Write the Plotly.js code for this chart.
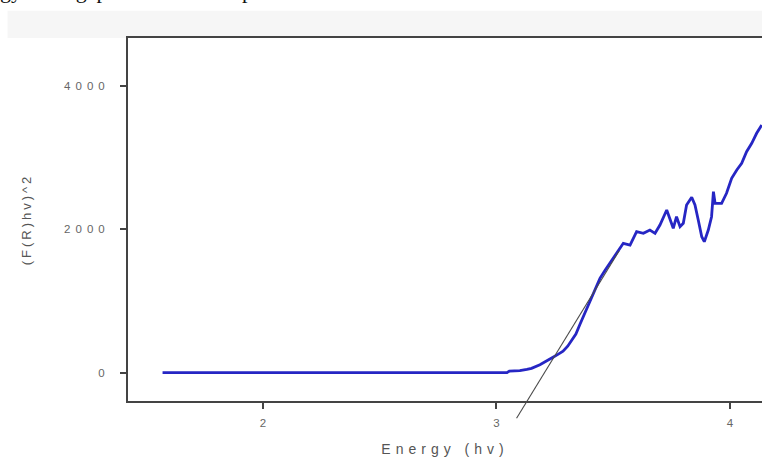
<!DOCTYPE html>
<html>
<head>
<meta charset="utf-8">
<script src="https://cdn.plot.ly/plotly-3.0.1.min.js"></script>
<style>
  html, body { margin: 0; padding: 0; background: #ffffff; }
  #chart { width: 762px; height: 457px; }
  .ytick text { letter-spacing: 5px; }
  .g-xtitle text { letter-spacing: 5px; }
  .g-ytitle text { letter-spacing: 3px; }
</style>
</head>
<body>
<div id="chart"></div>
<script>
// Energy (hv) values
var energy = [1.57, 1.8, 2.0, 2.2, 2.4, 2.6, 2.8, 3.0, 3.045, 3.055, 3.10, 3.13, 3.15, 3.186, 3.215, 3.242, 3.265, 3.285, 3.305, 3.323, 3.34, 3.358, 3.38, 3.40, 3.42, 3.443, 3.465, 3.486, 3.515, 3.543, 3.572, 3.600, 3.629, 3.657, 3.679, 3.700, 3.729, 3.743, 3.757, 3.771, 3.786, 3.800, 3.814, 3.836, 3.850, 3.864, 3.879, 3.890, 3.907, 3.921, 3.929, 3.936, 3.964, 3.985, 4.007, 4.029, 4.050, 4.071, 4.093, 4.114, 4.136];
// (F(R)hv)^2 values
var fr2 = [0, 0, 0, 0, 0, 0, 0, 0, 0, 22, 28, 45, 60, 110, 160, 215, 260, 300, 370, 450, 540, 680, 840, 1010, 1150, 1317, 1430, 1527, 1666, 1806, 1782, 1968, 1945, 1991, 1945, 2061, 2271, 2155, 2015, 2177, 2038, 2085, 2340, 2448, 2340, 2131, 1898, 1828, 1991, 2177, 2526, 2364, 2364, 2504, 2713, 2829, 2922, 3084, 3201, 3341, 3457];
// Tangent (band-gap extrapolation) line end points
var tangentX = [3.086, 3.525];
var tangentY = [-636, 1700];
// Axis ticks
var xTickVals = [2, 3, 4];
var xTickText = ['2', '3', '4'];
var yTickVals = [0, 2000, 4000];
var yTickText = ['0', '2000', '4000'];

var xRange = [1.422, 4.137];
var yRange = [-395, 4671];
var d0 = 0.0902; // bottom of main y domain (paper fraction)
var y2Range = [yRange[0] - (yRange[1] - yRange[0]) * d0 / (1 - d0), yRange[1]];

var traces = [
  {
    x: energy, y: fr2, type: 'scatter', mode: 'lines',
    line: { color: '#2626c4', width: 2.8 },
    xaxis: 'x', yaxis: 'y', hoverinfo: 'skip', showlegend: false
  },
  {
    x: tangentX, y: tangentY, type: 'scatter', mode: 'lines',
    line: { color: '#4a4a4a', width: 1.1 },
    xaxis: 'x2', yaxis: 'y2', hoverinfo: 'skip', showlegend: false
  }
];

var axisFont = { family: 'Liberation Sans, Arial, sans-serif', size: 11.5, color: '#666666' };

var layout = {
  width: 762, height: 457,
  margin: { l: 128, r: 0, t: 38, b: 20 },
  paper_bgcolor: '#ffffff',
  plot_bgcolor: 'rgba(0,0,0,0)',
  showlegend: false,
  xaxis: {
    range: xRange, domain: [0, 1], anchor: 'y',
    tickvals: xTickVals, ticktext: xTickText,
    ticks: 'outside', ticklen: 6, tickwidth: 2, tickcolor: '#444',
    showline: true, linecolor: '#444', linewidth: 2, mirror: true,
    showgrid: false, zeroline: false,
    tickfont: axisFont, ticklabelstandoff: 4,
    title: { text: 'Energy (hv)', standoff: 18, font: { family: 'Liberation Sans, Arial, sans-serif', size: 14, color: '#555' } }
  },
  yaxis: {
    range: yRange, domain: [d0, 1], anchor: 'x',
    tickvals: yTickVals, ticktext: yTickText,
    ticks: 'outside', ticklen: 6, tickwidth: 2, tickcolor: '#444',
    showline: true, linecolor: '#444', linewidth: 2, mirror: false,
    showgrid: false, zeroline: false,
    tickfont: axisFont, ticklabelstandoff: 8,
    title: { text: '(F(R)hv)^2', standoff: 30, font: { family: 'Liberation Sans, Arial, sans-serif', size: 13, color: '#555' } }
  },
  xaxis2: { range: xRange, domain: [0, 1], anchor: 'y2', visible: false, fixedrange: true },
  yaxis2: { range: y2Range, domain: [0, 1], anchor: 'x2', visible: false, fixedrange: true },
  shapes: [
    { type: 'rect', xref: 'paper', yref: 'paper', x0: -0.19, x1: 1.0, y0: 1.0, y1: 1.068,
      fillcolor: '#f6f6f6', line: { width: 0 }, layer: 'below' }
  ],
  annotations: [
    { text: 'gy band gap of  CeO2 nanoparticles is calculated as shown.', xref: 'paper', yref: 'paper',
      x: -0.205, y: 1.118, xanchor: 'left', yanchor: 'middle', showarrow: false,
      font: { family: 'Liberation Serif, Times New Roman, serif', size: 22, color: '#111' } }
  ]
};

Plotly.newPlot('chart', traces, layout, { displayModeBar: false, staticPlot: true });
</script>
</body>
</html>
